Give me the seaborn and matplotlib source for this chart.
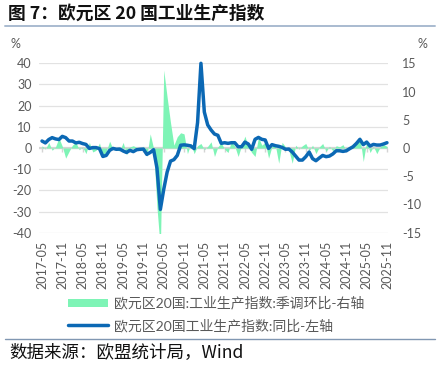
import pandas as pd
import matplotlib
matplotlib.use("Agg")
import matplotlib.pyplot as plt
import seaborn as sns
from matplotlib.patches import Patch
from matplotlib.lines import Line2D

# monthly, 2017-05 .. 2025-11
months = pd.date_range("2017-05-01", "2025-11-01", freq="MS")

# 欧元区20国工业生产指数: 同比 (%), left axis
yoy = [3.3, 2.4, 4.0, 4.9, 4.3, 4.0, 5.5, 4.9, 3.3, 3.3, 2.4, 2.7,
       2.1, 1.7, -0.2, 0.2, 0.2, -0.3, -4.0, -3.5, -1.1, -0.2, -0.6, -0.5,
       -1.4, -2.1, -1.1, -1.7, -0.8, -0.6, -0.5, -3.0, -2.1, -0.8, -9.5, -29.0,
       -19.5, -11.4, -6.2, -5.5, -3.5, 1.3, 1.5, 1.3, 1.0, -0.3, 12.0, 40.0,
       17.0, 10.9, 8.5, 6.6, 6.0, 2.2, 2.5, 2.2, 2.5, 2.5, 0.6, 0.6,
       2.8, 1.9, -0.6, 4.1, 5.0, 4.1, 3.8, -0.2, 1.6, 1.1, 0.8, 0.3,
       -0.6, -0.5, -1.9, -3.8, -5.7, -5.7, -4.1, -1.9, -5.0, -6.0, -4.7, -3.5,
       -4.1, -3.8, -2.8, -1.3, -1.3, -1.6, -1.3, -0.3, 0.6, 2.2, 4.1, 1.6,
       2.8, 0.9, 1.7, 1.4, 1.4, 1.9, 2.5]

# 欧元区20国工业生产指数: 季调环比 (%), right axis
mom = [0.4, -0.2, 1.0, -0.4, 0.2, 1.8, 0.3, -1.8, -0.6, 0.5, 1.0, -0.3,
       0.2, -1.0, 1.0, -0.7, -0.4, 0.9, -1.5, -0.6, 1.2, -0.2, -0.4, -0.5,
       1.0, -1.2, 0.2, 0.4, 0.1, -0.5, 0.3, -1.5, 2.5, -0.1, -10.5, -18.0,
       13.8, 9.0, 4.5, 0.5, 2.0, 2.7, 2.5, -1.0, 0.8, -1.0, 0.4, 0.8,
       -0.3, 0.3, 1.1, -1.5, 0.2, 0.9, -0.2, -0.8, 1.2, 0.3, -1.5, 0.4,
       2.1, 0.2, -0.8, -1.5, 1.9, 0.5, 1.0, -1.8, 0.3, 0.5, -2.7, 1.0,
       0.2, -0.4, -2.7, 0.5, -0.2, 0.4, 0.8, -0.5, 0.5, -1.0, 0.2, 0.8,
       -0.6, 0.3, -0.5, 0.4, 0.2, 0.6, -0.6, 0.2, 0.8, 1.0, 2.0, -2.4,
       1.2, -0.8, 0.3, -1.0, 0.2, 0.6, 0.3]

tick_labels = [d.strftime("%Y-%m") for d in months[::6]]
left_ticks = list(range(-40, 41, 10))
right_ticks = list(range(-15, 16, 5))

df = pd.DataFrame({"idx": range(len(months)), "yoy": yoy, "mom": mom})

sns.set_theme(style="white")
plt.rcParams["font.family"] = ["Lato", "Noto Sans CJK SC", "DejaVu Sans"]
plt.rcParams["axes.unicode_minus"] = False

gray = "#595959"
mint = "#7EF4B6"
blue = "#0B68B4"

fig = plt.figure(figsize=(4.4, 3.66), dpi=100)
ax = fig.add_axes([0.0893, 0.3642, 0.7932, 0.4628])
ax2 = ax.twinx()
ax3 = ax.twinx()

# left axis: grid + labels
ax.set_ylim(-40, 40)
ax.set_yticks(left_ticks)
ax.yaxis.grid(True, color="#E2E2E2", linewidth=0.9)
ax.axhline(0, color="#D4D4D4", linewidth=1.6, zorder=1)
ax.set_xlim(-0.8, 102.4)
ax.set_xticks(df["idx"][::6])
ax.set_xticklabels(tick_labels, rotation=90)
ax.plot(df["idx"][::6], [0] * len(tick_labels), ls="", marker=3, ms=3,
        mew=1, color="#D4D4D4")
ax.tick_params(axis="y", length=0, pad=5.5, labelsize=9, labelcolor=gray)
ax.tick_params(axis="x", length=0, pad=6, labelsize=9, labelcolor=gray)

# right axis: seasonally adjusted MoM as area
ax2.fill_between(df["idx"], df["mom"], 0, color=mint, linewidth=0)
ax2.set_ylim(-15, 15)
ax2.set_yticks(right_ticks)
ax2.tick_params(axis="y", length=0, pad=10, labelsize=9, labelcolor=gray)
ax2.grid(False)

# YoY line on top
sns.lineplot(data=df, x="idx", y="yoy", ax=ax3, color=blue, linewidth=2.5)
ax3.set_ylim(-40, 40)
ax3.yaxis.set_visible(False)
ax3.set_xlabel("")
ax3.grid(False)
for line in ax3.lines:
    line.set_clip_on(False)
    line.set_solid_capstyle("round")

for a in (ax, ax2, ax3):
    for s in a.spines.values():
        s.set_visible(False)
ax.set_xlabel("")
ax.set_ylabel("")

fig.text(15 / 440, 1 - 44 / 366, "%", color=gray, fontsize=9, ha="center", va="center")
fig.text(422 / 440, 1 - 44 / 366, "%", color=gray, fontsize=9, ha="center", va="center")

handles = [Patch(facecolor=mint, edgecolor="none"),
           Line2D([0], [0], color=blue, linewidth=2.5)]
labels = ["欧元区20国:工业生产指数:季调环比-右轴", "欧元区20国工业生产指数:同比-左轴"]
fig.legend(handles, labels, loc="upper left", bbox_to_anchor=(0.155, 1 - 296 / 366),
           frameon=False, fontsize=10, labelcolor=gray, handlelength=2.9,
           handleheight=0.55, handletextpad=0.4, labelspacing=0.62,
           borderpad=0, borderaxespad=0)

fig.text(8 / 440, 1 - 14 / 366, "图 7：欧元区 20 国工业生产指数", fontsize=12.8,
         fontweight="bold", color="#111111", va="center", ha="left",
         family=["Noto Sans CJK SC", "DejaVu Sans"])
fig.add_artist(Line2D([5 / 440, 435 / 440], [1 - 26 / 366, 1 - 26 / 366],
                      color="#A9BBD0", linewidth=1.4))
fig.add_artist(Line2D([5 / 440, 435 / 440], [1 - 339 / 366, 1 - 339 / 366],
                      color="#8197B2", linewidth=1.0))
fig.text(9 / 440, 1 - 352 / 366, "数据来源：欧盟统计局，Wind", fontsize=12.6,
         color="#111111", va="center", ha="left",
         family=["Noto Sans CJK SC", "DejaVu Sans"])

fig.savefig("out.png", dpi=100)
